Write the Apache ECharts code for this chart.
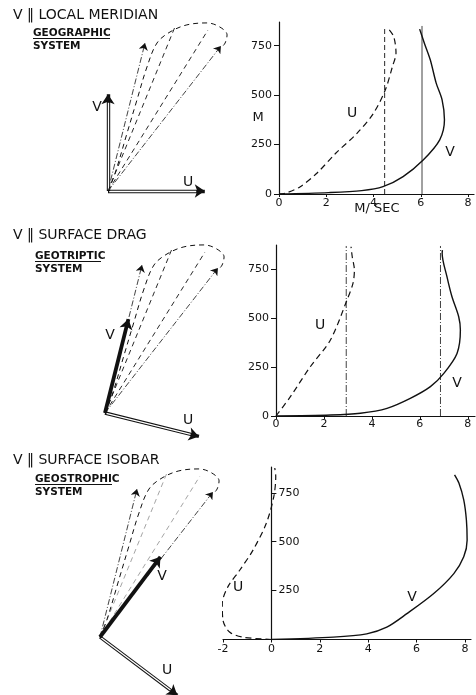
<!DOCTYPE html>
<html>
<head>
<meta charset="utf-8">
<title>Wind profiles in three coordinate systems</title>
<script src="https://cdn.jsdelivr.net/npm/echarts@6/dist/echarts.min.js"></script>
<style>
  html, body { margin: 0; padding: 0; background: #fff; }
  #chart { width: 476px; height: 695px; }
</style>
</head>
<body>
<div id="chart"></div>
<script>
// tick labels
var hTicks = [0, 250, 500, 750];
var hTicks3 = [250, 500, 750];
var sTicks = [0, 2, 4, 6, 8];
var sTicks3 = [-2, 0, 2, 4, 6, 8];

// hodograph (m/s), same curve on paper in all three panels
var hodoU = [0, 0.29, 0.78, 1.18, 1.59, 2.0, 2.53, 3.22, 4.04, 4.57, 4.86, 4.78, 4.65];
var hodoV = [0, 0.73, 2.37, 3.71, 5.06, 6.04, 6.49, 6.78, 6.86, 6.69, 6.37, 6.04, 5.88];
// rays from origin: surface wind, two mid levels, geostrophic wind
var rayU = [1.51, 2.73, 4.08, 4.61];
var rayV = [6.04, 6.69, 6.57, 5.92];
var rayArrow = [true, false, false, true];
// rotation of the U axis from east (deg) for each system
var frameAngle = [0, -14, -37];

// panel 1 : geographic
var u1Spd = [0, 0.25, 0.9, 1.6, 2.4, 3.3, 4.0, 4.5, 4.8, 4.95, 4.85, 4.6];
var u1Hgt = [0, 3, 37, 105, 206, 307, 409, 527, 645, 713, 797, 840];
var v1Spd = [0, 2.1, 3.5, 4.4, 5.25, 6.1, 6.8, 7.0, 6.9, 6.65, 6.4, 6.15, 5.95];
var v1Hgt = [0, 7, 17, 37, 88, 172, 274, 375, 476, 561, 679, 763, 834];
// panel 2 : geotriptic
var u2Spd = [0, 0.6, 1.43, 2.27, 2.96, 3.21, 3.27, 3.18, 3.13];
var u2Hgt = [0, 99, 252, 389, 593, 679, 747, 815, 866];
var v2Spd = [0, 2.27, 3.52, 4.63, 5.6, 6.44, 7.0, 7.55, 7.69, 7.62, 7.34, 7.13, 6.93, 6.94];
var v2Hgt = [0, 5, 14, 39, 90, 150, 218, 320, 440, 508, 610, 713, 832, 849];
// panel 3 : geostrophic
var u3Spd = [0, -1.18, -1.73, -2.0, -2.03, -1.8, -1.31, -0.76, -0.21, 0.1, 0.18, 0.14];
var u3Hgt = [0, 12, 38, 98, 183, 269, 354, 457, 594, 731, 834, 877];
var v3Spd = [0, 2.56, 3.94, 4.77, 5.6, 6.71, 7.54, 7.95, 8.09, 8.06, 7.95, 7.75, 7.57];
var v3Hgt = [0, 12, 29, 63, 132, 235, 337, 423, 508, 611, 714, 800, 842];
// geostrophic components (vertical reference lines), panels 1 and 2
var ugRef = [4.47, 2.93];
var vgRef = [6.05, 6.86];

function zip(a, b) { return a.map(function (v, i) { return [v, b[i]]; }); }

var FONT = 'DejaVu Sans';
var INK = '#111';
var series = [];

// ---------- hodograph panels ----------
function seg(p, q) { return { coords: [p, q] }; }
function rot(len, deg) {
  var r = deg * Math.PI / 180;
  return [len * Math.cos(r), len * Math.sin(r)];
}
for (var k = 0; k < 3; k++) {
  var rayColor = k === 2 ? '#9a9a9a' : INK;
  // rays
  rayU.forEach(function (u, i) {
    series.push({
      type: 'lines', coordinateSystem: 'cartesian2d', xAxisIndex: k, yAxisIndex: k,
      symbol: ['none', rayArrow[i] ? 'arrow' : 'none'], symbolSize: 7,
      lineStyle: { color: rayArrow[i] ? INK : rayColor, width: rayArrow[i] ? 0.8 : 0.9,
        type: rayArrow[i] ? [6, 2, 1, 2] : [5, 4], opacity: 1 },
      data: [seg([0, 0], [u, rayV[i]])], silent: true
    });
  });
  // hodograph curve
  series.push({
    type: 'line', xAxisIndex: k, yAxisIndex: k, data: zip(hodoU, hodoV),
    smooth: 0.35, showSymbol: false, silent: true,
    lineStyle: { color: INK, width: 1, type: [5, 4] }
  });
  // U axis (hollow)
  var uEnd = rot(3.95, frameAngle[k]);
  var uIn = rot(3.6, frameAngle[k]);
  var uStart = rot(0.05, frameAngle[k]);
  series.push({
    type: 'lines', coordinateSystem: 'cartesian2d', xAxisIndex: k, yAxisIndex: k,
    symbol: ['none', 'arrow'], symbolSize: [8, 10], silent: true,
    lineStyle: { color: INK, width: 3.4, opacity: 1 }, data: [seg([0, 0], uEnd)]
  });
  series.push({
    type: 'lines', coordinateSystem: 'cartesian2d', xAxisIndex: k, yAxisIndex: k,
    symbol: ['none', 'none'], silent: true,
    lineStyle: { color: '#fff', width: 1.3, opacity: 1 }, data: [seg(uStart, uIn)]
  });
  // V axis: hollow in panel 1, solid heavy in panels 2 and 3
  var vEnd = rot(k === 2 ? 4.1 : 3.95, frameAngle[k] + 90);
  series.push({
    type: 'lines', coordinateSystem: 'cartesian2d', xAxisIndex: k, yAxisIndex: k,
    symbol: ['none', 'arrow'], symbolSize: [8, 10], silent: true,
    lineStyle: { color: INK, width: k === 0 ? 3.4 : 3.8, opacity: 1 }, data: [seg([0, 0], vEnd)]
  });
  if (k === 0) {
    series.push({
      type: 'lines', coordinateSystem: 'cartesian2d', xAxisIndex: k, yAxisIndex: k,
      symbol: ['none', 'none'], silent: true,
      lineStyle: { color: '#fff', width: 1.3, opacity: 1 },
      data: [seg(rot(0.05, 90), rot(3.6, 90))]
    });
  }
}

// ---------- profile panels ----------
function profile(gi, uS, uH, vS, vH) {
  series.push({
    type: 'line', xAxisIndex: gi, yAxisIndex: gi, data: zip(uS, uH),
    smooth: 0.3, showSymbol: false, silent: true,
    lineStyle: { color: INK, width: 1.2, type: [6, 4] }
  });
  series.push({
    type: 'line', xAxisIndex: gi, yAxisIndex: gi, data: zip(vS, vH),
    smooth: 0.3, showSymbol: false, silent: true,
    lineStyle: { color: INK, width: 1.4 }
  });
}
profile(3, u1Spd, u1Hgt, v1Spd, v1Hgt);
profile(4, u2Spd, u2Hgt, v2Spd, v2Hgt);
profile(5, u3Spd, u3Hgt, v3Spd, v3Hgt);

// geostrophic reference lines
series.push({ type: 'line', xAxisIndex: 3, yAxisIndex: 3, showSymbol: false, silent: true,
  data: [[ugRef[0], 0], [ugRef[0], 845]], lineStyle: { color: INK, width: 0.9, type: [5, 3] } });
series.push({ type: 'line', xAxisIndex: 3, yAxisIndex: 3, showSymbol: false, silent: true,
  data: [[vgRef[0], 0], [vgRef[0], 850]], lineStyle: { color: INK, width: 0.8 } });
series.push({ type: 'line', xAxisIndex: 4, yAxisIndex: 4, showSymbol: false, silent: true,
  data: [[ugRef[1], 0], [ugRef[1], 870]], lineStyle: { color: INK, width: 0.8, type: [7, 2, 1, 2] } });
series.push({ type: 'line', xAxisIndex: 4, yAxisIndex: 4, showSymbol: false, silent: true,
  data: [[vgRef[1], 0], [vgRef[1], 870]], lineStyle: { color: INK, width: 0.8, type: [7, 2, 1, 2] } });

// ---------- axes ----------
var grids = [
  { left: 59, top: 7.25, width: 196, height: 208.25 },
  { left: 56, top: 229.25, width: 196, height: 220.5 },
  { left: 51, top: 453.25, width: 196, height: 240.1 },
  { left: 279, top: 22, width: 195, height: 172 },
  { left: 276, top: 245, width: 199, height: 171 },
  { left: 223, top: 467, width: 248, height: 172.5 }
];
var hodoY = [[-1, 7.5], [-1.5, 7.5], [-2.3, 7.5]];
var xAxes = [], yAxes = [];
for (var h = 0; h < 3; h++) {
  xAxes.push({ gridIndex: h, type: 'value', min: -2, max: 6, show: false });
  yAxes.push({ gridIndex: h, type: 'value', min: hodoY[h][0], max: hodoY[h][1], show: false });
}
function sAxis(gi, min, max, ticks, margin) {
  return {
    gridIndex: gi, type: 'value', min: min, max: max, splitLine: { show: false },
    axisLine: { lineStyle: { color: INK, width: 1.2 } },
    axisTick: { customValues: ticks, length: 3, lineStyle: { color: INK } },
    axisLabel: { customValues: ticks, color: INK, fontFamily: FONT, fontSize: 11, margin: margin }
  };
}
xAxes.push(sAxis(3, 0, 8.25, sTicks, 4));
xAxes.push(sAxis(4, 0, 8.3, sTicks, 3));
xAxes.push(sAxis(5, -2, 8.25, sTicks3, 4));

// labels on the right of the line in the geostrophic panel: the label anchor sits on
// the grid edge, so shift it over to where x = 0 falls
function hAxis(gi, max, ticks, zeroShift) {
  var toRight = zeroShift !== null;
  return {
    gridIndex: gi, type: 'value', min: 0, max: max, splitLine: { show: false },
    axisLine: { onZero: true, lineStyle: { color: INK, width: 1.2 } },
    axisTick: { customValues: ticks, length: 5, inside: toRight, lineStyle: { color: INK } },
    axisLabel: { customValues: ticks, color: INK, fontFamily: FONT, fontSize: 11,
      margin: toRight ? -(zeroShift + 7) : 7, align: toRight ? 'left' : 'right' }
  };
}
var g3 = grids[5], x3 = xAxes[5];
var zeroPx3 = (0 - x3.min) / (x3.max - x3.min) * g3.width;
yAxes.push(hAxis(3, 870, hTicks, null));
yAxes.push(hAxis(4, 875, hTicks, null));
yAxes.push(hAxis(5, 882, hTicks3, zeroPx3));

// ---------- texts ----------
function txt(x, y, s, size, bold, align) {
  return { type: 'text', x: x, y: y, silent: true,
    style: { text: s, fill: INK, font: (bold ? 'bold ' : '') + size + 'px "' + FONT + '"',
      align: align || 'center', verticalAlign: 'middle' } };
}
function uline(x1, x2, y) {
  return { type: 'line', silent: true, shape: { x1: x1, y1: y, x2: x2, y2: y },
    style: { stroke: INK, lineWidth: 1 } };
}
var graphics = [
  txt(13, 15, 'V \u2016 LOCAL MERIDIAN', 14, false, 'left'),
  txt(33, 33, 'GEOGRAPHIC', 10.5, true, 'left'), uline(33, 110, 38.5),
  txt(33, 46, 'SYSTEM', 10.5, true, 'left'),
  txt(13, 235, 'V \u2016 SURFACE DRAG', 14, false, 'left'),
  txt(35, 256, 'GEOTRIPTIC', 10.5, true, 'left'), uline(35, 101, 261.5),
  txt(35, 269, 'SYSTEM', 10.5, true, 'left'),
  txt(13, 460, 'V \u2016 SURFACE ISOBAR', 14, false, 'left'),
  txt(35, 479, 'GEOSTROPHIC', 10.5, true, 'left'), uline(35, 112, 484.5),
  txt(35, 492, 'SYSTEM', 10.5, true, 'left'),
  // hodograph axis names
  txt(188, 182, 'U', 14), txt(97, 107, 'V', 14),
  txt(188, 420, 'U', 14), txt(110, 335, 'V', 14),
  txt(167, 670, 'U', 14), txt(162, 576, 'V', 14),
  // profile names
  txt(352, 113, 'U', 14), txt(450, 152, 'V', 14),
  txt(320, 325, 'U', 14), txt(457, 383, 'V', 14),
  txt(238, 587, 'U', 14), txt(412, 597, 'V', 14),
  txt(258, 118, 'M', 13), txt(377, 209, 'M/ SEC', 13)
];

var chart = echarts.init(document.getElementById('chart'), null, { renderer: 'canvas' });
chart.setOption({
  animation: false,
  backgroundColor: '#fff',
  grid: grids,
  xAxis: xAxes,
  yAxis: yAxes,
  series: series,
  graphic: graphics
});
</script>
</body>
</html>
